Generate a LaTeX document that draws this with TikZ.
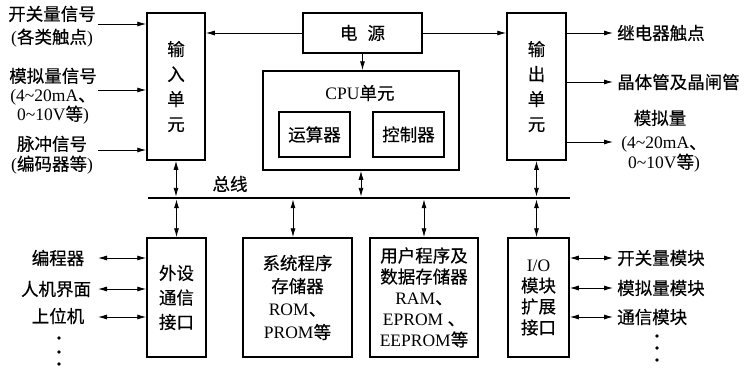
\documentclass[tikz,border=0pt]{standalone}
\usepackage{fontspec}
\setmainfont{Liberation Serif}
\newfontfamily\cjk[FakeBold=0.4]{Noto Sans CJK SC}
\newcommand{\zh}[1]{{\cjk #1}}
\newcommand{\tl}{\textasciitilde}
\usetikzlibrary{arrows.meta}
\tikzset{
  box/.style={draw, line width=1.5pt, inner sep=0pt, align=center},
  tip/.tip={Latex[length=9pt,width=5pt]},
  conn/.style={line width=0.9pt, -tip},
  dconn/.style={line width=0.9pt, tip-tip},
  lbl/.style={inner sep=0pt, align=center},
  fs/.style={font=\fontsize{17.5}{#1}\selectfont},
  dot/.style={circle, fill=black, inner sep=0pt, minimum size=3.6pt}
}
\begin{document}
\begin{tikzpicture}[x=1pt,y=-1pt]
\useasboundingbox (0,0) rectangle (746,368);

% upper boxes
\node[box, fs=25, minimum width=58pt, minimum height=147pt] (in) at (176,86.5)
  {\zh{输}\\\zh{入}\\\zh{单}\\\zh{元}};
\node[box, fs=25, minimum width=59pt, minimum height=147pt] (out) at (536.5,86.5)
  {\zh{输}\\\zh{出}\\\zh{单}\\\zh{元}};
\node[box, fs=21, minimum width=119pt, minimum height=40pt] (pw) at (362.5,33)
  {\zh{电}\hspace{10pt}\zh{源}};
\node[box, minimum width=196pt, minimum height=99pt] (cpu) at (361,120.5) {};
\node[lbl, fs=21] (cpul) at (360,93) {CPU\zh{单元}};
\node[box, fs=21, minimum width=71pt, minimum height=45pt] (alu) at (314.5,134.5) {\zh{运算器}};
\node[box, fs=21, minimum width=71pt, minimum height=45pt] (ctl) at (408.5,134.5) {\zh{控制器}};

% bus
\coordinate (bl) at (148,198);
\coordinate (br) at (570,198);
\draw[line width=2.4pt] (bl) -- (br);
\node[lbl, fs=21] (busl) at (230,184) {\zh{总线}};

% lower boxes
\node[box, fs=24.5, minimum width=59pt, minimum height=119pt] (peri) at (176.5,297.5)
  {\zh{外设}\\\zh{通信}\\\zh{接口}};
\node[box, fs=23, minimum width=109pt, minimum height=119pt] (sys) at (297.5,297.5)
  {\zh{系统程序}\\\zh{存储器}\\ROM\zh{、}\\PROM\zh{等}};
\node[box, fs=21, minimum width=108pt, minimum height=119pt] (usr) at (424,297.5)
  {\zh{用户程序及}\\\zh{数据存储器}\\RAM\zh{、}\\EPROM \zh{、}\\EEPROM\zh{等}};
\node[box, fs=21, minimum width=61pt, minimum height=119pt] (io) at (538.5,297.5)
  {I/O\\\zh{模块}\\\zh{扩展}\\\zh{接口}};

% power connections
\draw[conn] (pw.south) -- (pw.south |- cpu.north);
\draw[conn] (pw.west) -- (pw.west -| in.east);
\draw[conn] (pw.east) -- (pw.east -| out.west);

% bus connections
\draw[dconn, shorten >=1.2pt] (in.south) -- (in.south |- bl);
\draw[dconn, shorten >=1.2pt] (cpu.south) -- (cpu.south |- bl);
\draw[dconn, shorten >=1.2pt] (out.south) -- (out.south |- bl);
\draw[dconn, shorten <=1.2pt] (peri.north |- bl) -- (peri.north);
\draw[dconn, shorten <=1.2pt] ([xshift=-4.5pt]sys.north |- bl) -- ([xshift=-4.5pt]sys.north);
\draw[dconn, shorten <=1.2pt] (usr.north |- bl) -- (usr.north);
\draw[dconn, shorten <=1.2pt] (out.south |- bl) -- (out.south |- io.north);

% input signals
\coordinate (i1) at (98,24);
\coordinate (i2) at (98,90);
\coordinate (i3) at (98,150);
\draw[conn] (i1) -- (i1 -| in.west);
\draw[conn] (i2) -- (i2 -| in.west);
\draw[conn] (i3) -- (i3 -| in.west);
\node[lbl, fs=23] (il1) at (52,26.5) {\zh{开关量信号}\\(\zh{各类触点})};
\node[lbl, fs=19] (il2) at (53,96) {\zh{模拟量信号}\\(4\tl 20mA\zh{、}\\0\tl 10V\zh{等})};
\node[lbl, fs=20] (il3) at (52,155) {\zh{脉冲信号}\\(\zh{编码器等})};

% output signals
\coordinate (o1) at (613,33);
\coordinate (o2) at (613,82);
\coordinate (o3) at (613,142);
\draw[conn] (o1 -| out.east) -- (o1);
\draw[conn] (o2 -| out.east) -- (o2);
\draw[conn] (o3 -| out.east) -- (o3);
\node[lbl, fs=21, anchor=west] (ol1) at (617,33) {\zh{继电器触点}};
\node[lbl, fs=21, anchor=west] (ol2) at (617,82) {\zh{晶体管及晶闸管}};
\node[lbl, fs=21] (ol3) at (660,118) {\zh{模拟量}};
\node[lbl, fs=17] (ol4) at (664,154.5) {(4\tl 20mA\zh{、}\\0\tl 10V\zh{等})};

% peripherals
\coordinate (p1) at (98,258);
\coordinate (p2) at (98,289);
\coordinate (p3) at (98,317);
\draw[dconn] (p1) -- (p1 -| peri.west);
\draw[dconn] (p2) -- (p2 -| peri.west);
\draw[dconn] (p3) -- (p3 -| peri.west);
\node[lbl, fs=21] (pl1) at (58,258) {\zh{编程器}};
\node[lbl, fs=21] (pl2) at (56,289) {\zh{人机界面}};
\node[lbl, fs=21] (pl3) at (58,316) {\zh{上位机}};
\node[dot] (pd1) at (59,338) {};
\node[dot] (pd2) at (59,352) {};
\node[dot] (pd3) at (59,364) {};

% I/O modules
\coordinate (m1) at (613,258);
\coordinate (m2) at (613,288);
\coordinate (m3) at (613,317);
\draw[dconn] (m1 -| io.east) -- (m1);
\draw[dconn] (m2 -| io.east) -- (m2);
\draw[dconn] (m3 -| io.east) -- (m3);
\node[lbl, fs=21, anchor=west] (ml1) at (617,258) {\zh{开关量模块}};
\node[lbl, fs=21, anchor=west] (ml2) at (617,288) {\zh{模拟量模块}};
\node[lbl, fs=21, anchor=west] (ml3) at (617,317) {\zh{通信模块}};
\node[dot] (md1) at (657,336) {};
\node[dot] (md2) at (657,348) {};
\node[dot] (md3) at (657,360) {};
\end{tikzpicture}
\end{document}
